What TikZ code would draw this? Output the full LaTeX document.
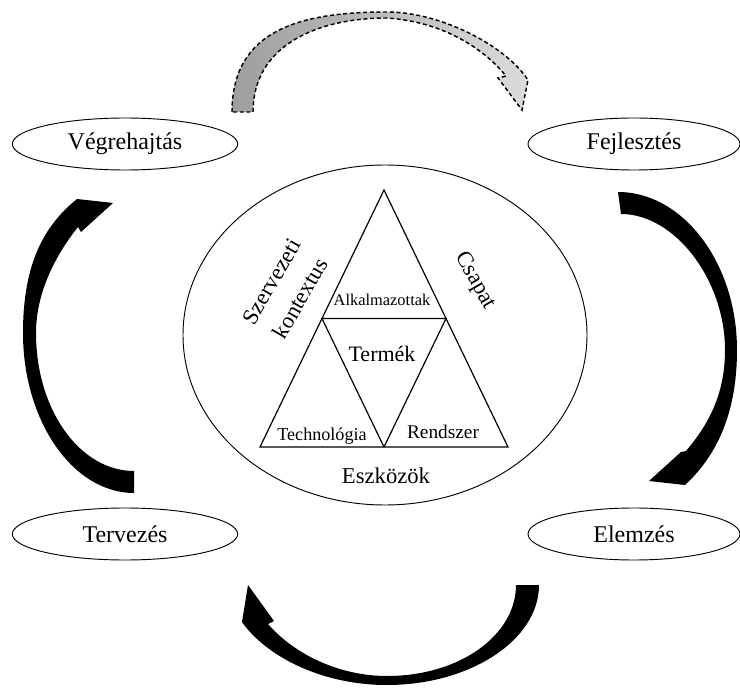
\documentclass[tikz,border=0pt]{standalone}
\usepackage{fontspec}
\setmainfont{Liberation Serif}
\usetikzlibrary{shapes.geometric,calc}

\begin{document}
\begin{tikzpicture}[x=0.75pt,y=-0.75pt,
    phase/.style={draw, ellipse, line width=0.7pt, inner sep=0pt, minimum height=39pt, font=\fontsize{18}{20}\selectfont},
    biglabel/.style={font=\fontsize{17}{23}\selectfont},
    turnarrow/.style={fill=black},
    backarrow/.style={draw, dashed, dash pattern=on 3pt off 2pt, line width=1.1pt, left color=black!38, right color=black!14}]
        \useasboundingbox (0,0) rectangle (740,688);
        \def \triw {0.9pt}

        \foreach \nm/\x/\y/\w/\txt in {vh/125/144/169/Végrehajtás, fe/634/144/159/Fejlesztés, te/125/534/169/Tervezés, el/634/534/159/Elemzés}{
          \node[phase, minimum width=\w pt] (\nm) at (\x,\y) {\txt};
        }

        \node[draw, ellipse, line width=0.7pt, minimum width=303pt, minimum height=255pt] (ctx) at (385,335) {};

        % triangle
        \coordinate (apex) at (384,190);
        \coordinate (bl) at (260,447);
        \coordinate (br) at (508,447);
        \coordinate (ml) at ($(apex)!0.5!(bl)$);
        \coordinate (mr) at ($(apex)!0.5!(br)$);
        \coordinate (bm) at ($(bl)!0.5!(br)$);
        \draw[line width=\triw] (apex)--(bl)--(br)--cycle;
        \draw[line width=\triw] (ml)--(mr)--(bm)--cycle;

        \node[font=\fontsize{12.3}{14}\selectfont] (alk) at (382,300) {Alkalmazottak};
        \node[font=\fontsize{16.5}{18}\selectfont] (term) at (382,354) {Termék};
        \node[font=\fontsize{13.6}{15}\selectfont] (tech) at (322,436) {Technológia};
        \node[font=\fontsize{14.5}{16}\selectfont] (rend) at (443,432) {Rendszer};
        \node[biglabel] (eszk) at (386,476) {Eszközök};
        \node[biglabel, rotate=60, align=center] (szerv) at (286,290) {Szervezeti\\[2pt]kontextus};
        \node[biglabel, rotate=-60] (csap) at (475,281) {Csapat};

        % cycle arrows
        \fill[turnarrow] (134,493) .. controls (73,493) and (23,421) .. (23,333)
          .. controls (23,262) and (45,225) .. (77,199)
          -- (113,203) -- (81,232) -- (78,227)
          .. controls (58,252) and (36,290) .. (36,333)
          .. controls (36,410) and (80,471) .. (134,471) -- cycle;
        \fill[turnarrow] (618,192) .. controls (683,192) and (737,263) .. (737,350)
          .. controls (737,420) and (712,460) .. (685,485)
          -- (649,481) -- (681,452) -- (686,451)
          .. controls (708,425) and (725,395) .. (725,350)
          .. controls (725,280) and (675,214) .. (621,214) -- cycle;
        \fill[turnarrow] (539,585) .. controls (539,640) and (470,685) .. (387,685)
          .. controls (320,685) and (265,655) .. (242,622)
          -- (248,585) -- (274,621) -- (268,624)
          .. controls (295,655) and (340,676) .. (387,676)
          .. controls (460,676) and (516,635) .. (516,585) -- cycle;
        \path[backarrow] (232,112) .. controls (232,30) and (300,12) .. (387,12)
          .. controls (440,12) and (505,45) .. (528,80)
          -- (522,110) -- (498,78) -- (506,76)
          .. controls (485,50) and (445,22) .. (387,18)
          .. controls (318,18) and (253,45) .. (253,112) -- cycle;
\end{tikzpicture}
\end{document}
